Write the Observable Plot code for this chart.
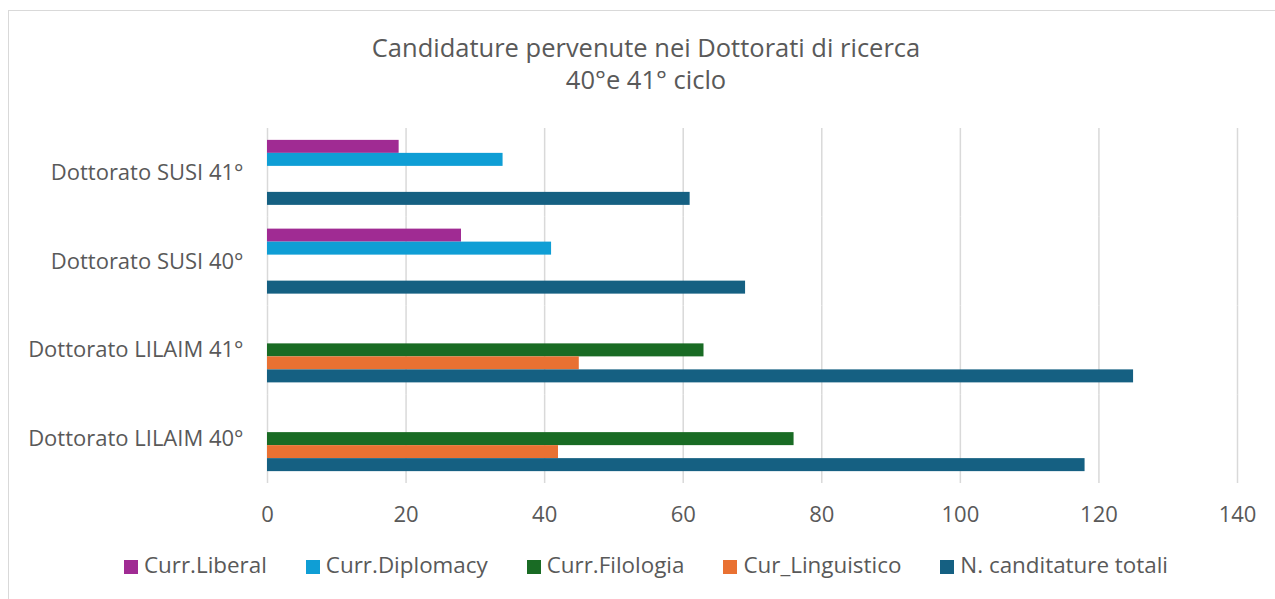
<!DOCTYPE html>
<html>
<head>
<meta charset="utf-8">
<script src="https://cdn.jsdelivr.net/npm/d3@7"></script>
<script src="https://cdn.jsdelivr.net/npm/@observablehq/plot@0.6"></script>
<style>
  html, body { margin: 0; padding: 0; background: #fff; overflow: hidden; }
  #frame { position: absolute; left: 8px; top: 10px; width: 1300px; height: 640px; border: 1px solid #d9d9d9; box-sizing: border-box; }
  #chart { position: absolute; left: 0; top: 0; }
  #title { position: absolute; left: 8px; width: 1276px; top: 31px; text-align: center; font-family: "Open Sans", sans-serif; font-weight: 400; font-size: 25.5px; line-height: 32px; color: #595959; }
  #legend { position: absolute; left: 8px; width: 1276px; top: 549px; display: flex; justify-content: center; font-family: "Open Sans", sans-serif; font-size: 22.4px; color: #595959; }
  .item { display: flex; align-items: center; margin: 0 19.5px; }
  .sw { width: 14px; height: 14px; margin-right: 6px; position: relative; top: 2px; }
</style>
</head>
<body>
<div id="frame"></div>
<div id="chart"></div>
<div id="title"></div>
<div id="legend"></div>
<script>
const titleLines = ["Candidature pervenute nei Dottorati di ricerca", "40°e 41° ciclo"];
const categories = ["Dottorato SUSI 41°", "Dottorato SUSI 40°", "Dottorato LILAIM 41°", "Dottorato LILAIM 40°"];
const series = ["Curr.Liberal", "Curr.Diplomacy", "Curr.Filologia", "Cur_Linguistico", "N. canditature totali"];
const colors = ["#A02B93", "#0F9ED5", "#196B24", "#E97132", "#156082"];
const liberal     = [19, 28, null, null];
const diplomacy   = [34, 41, null, null];
const filologia   = [null, null, 63, 76];
const linguistico = [null, null, 45, 42];
const totali      = [61, 69, 125, 118];
const xTicks = [0, 20, 40, 60, 80, 100, 120, 140];

const seriesValues = [liberal, diplomacy, filologia, linguistico, totali];
const rows = [];
categories.forEach((c, i) => {
  series.forEach((s, j) => {
    const v = seriesValues[j][i];
    if (v != null) rows.push({category: c, series: s, value: v});
  });
});

const chart = Plot.plot({
  width: 1275,
  height: 599,
  marginTop: 128,
  marginBottom: 116,
  marginLeft: 267,
  marginRight: 38,
  style: {fontFamily: "'Open Sans', sans-serif", color: "#595959", background: "transparent", overflow: "visible"},
  x: {domain: [0, 140], axis: null},
  y: {domain: series, axis: null, paddingInner: 0, paddingOuter: 0.913, round: false},
  fy: {domain: categories, padding: 0, axis: null, round: false},
  color: {domain: series, range: colors},
  marks: [
    Plot.gridX(xTicks, {stroke: "#d9d9d9", strokeOpacity: 1, strokeWidth: 1.5}),
    Plot.barX(rows, {x: "value", y: "series", fy: "category", fill: "series"}),
    Plot.axisX(xTicks, {anchor: "bottom", tickSize: 0, tickPadding: 23, fontSize: 22, label: null}),
    Plot.axisFy({anchor: "left", tickSize: 0, tickPadding: 24, fontSize: 22, label: null})
  ]
});
document.getElementById("chart").appendChild(chart);

const t = document.getElementById("title");
titleLines.forEach(l => { const d = document.createElement("div"); d.textContent = l; t.appendChild(d); });

const lg = document.getElementById("legend");
series.forEach((s, i) => {
  const it = document.createElement("div"); it.className = "item";
  const sw = document.createElement("div"); sw.className = "sw"; sw.style.background = colors[i];
  const tx = document.createElement("span"); tx.textContent = s;
  it.appendChild(sw); it.appendChild(tx); lg.appendChild(it);
});
</script>
</body>
</html>
